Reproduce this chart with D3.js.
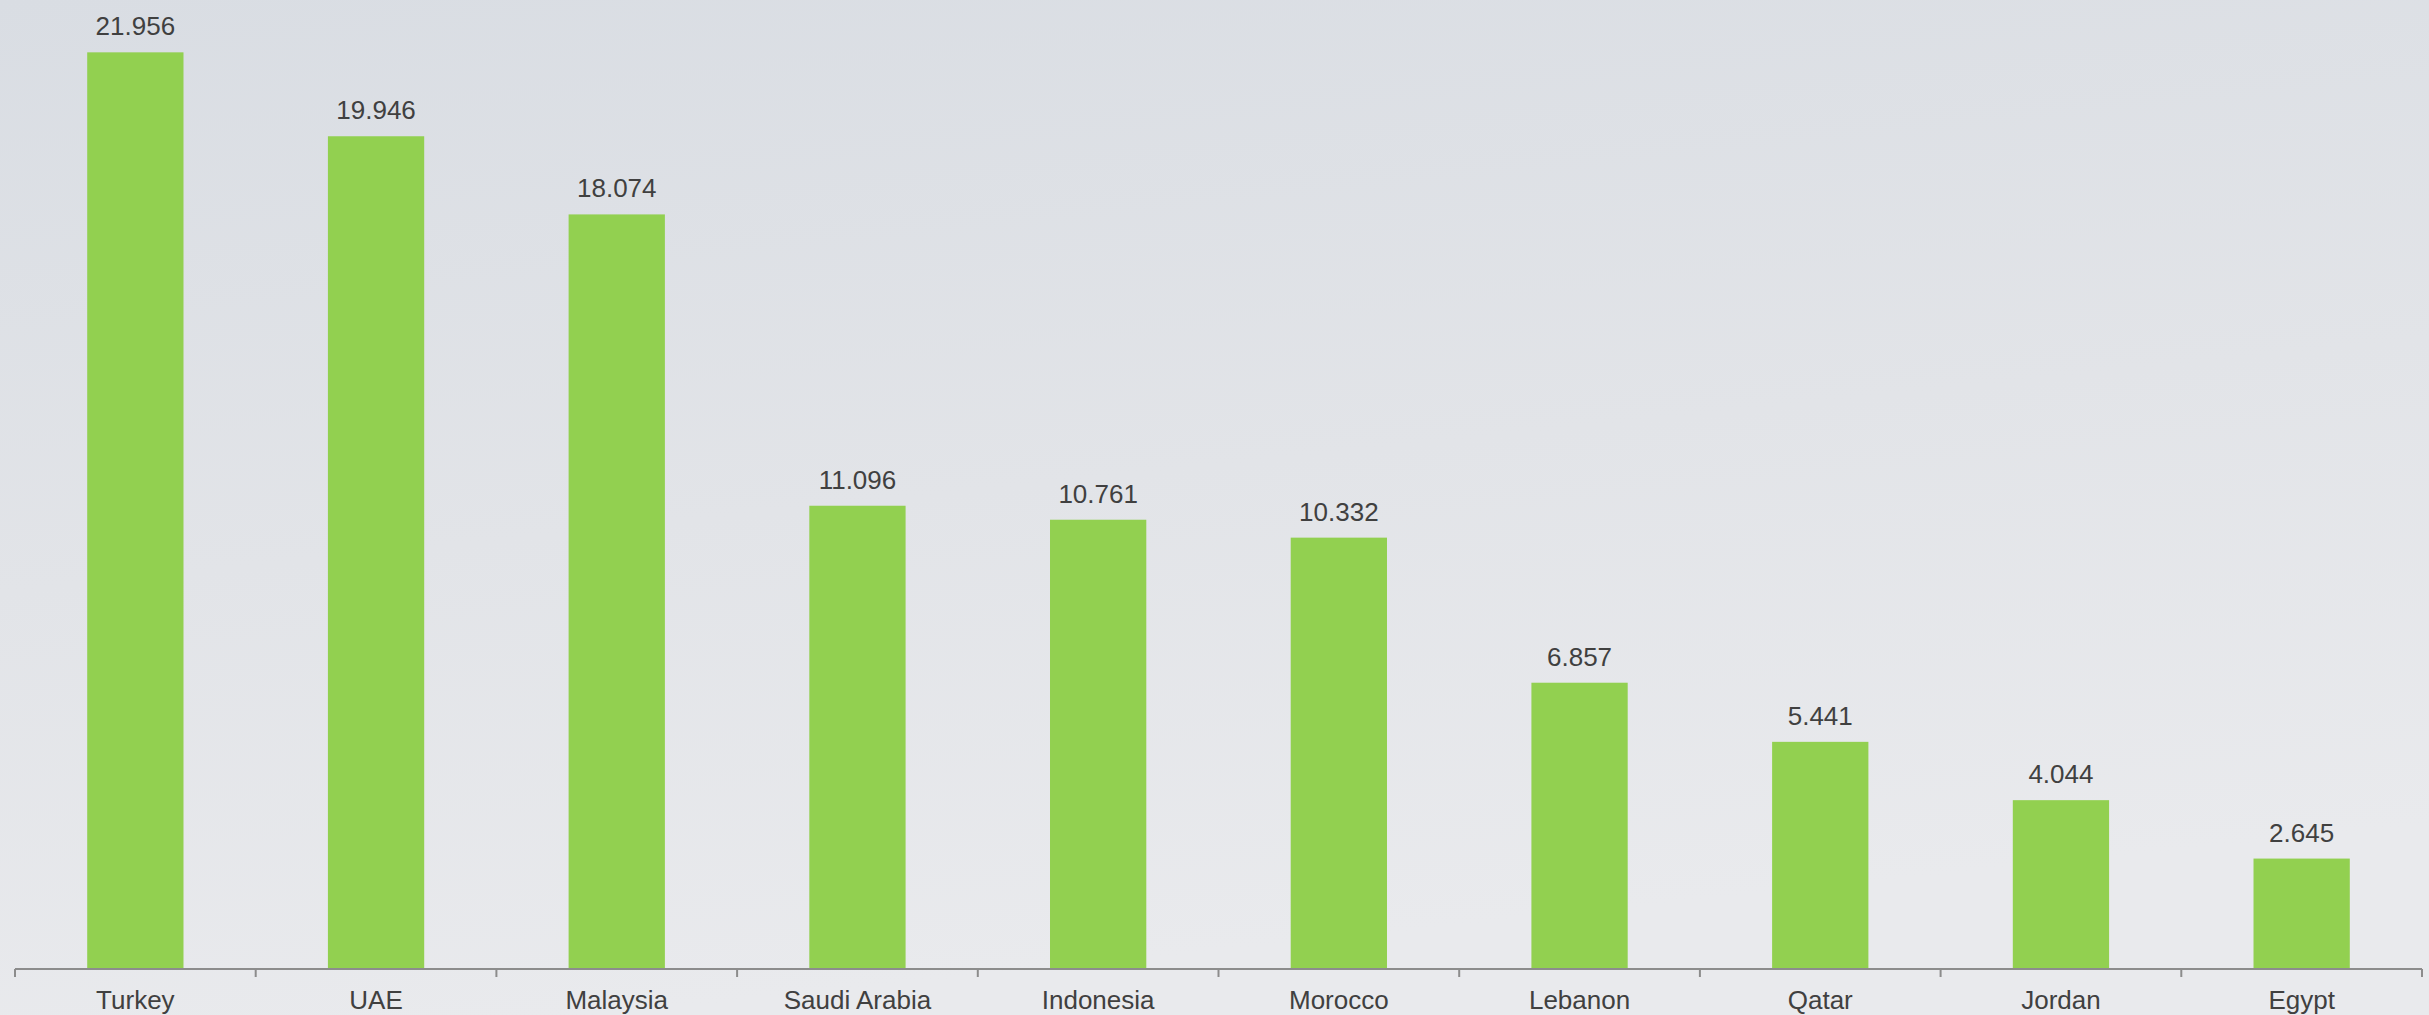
<!DOCTYPE html>
<html>
<head>
<meta charset="utf-8">
<script src="https://cdn.jsdelivr.net/npm/d3@7"></script>
<style>
  html, body { margin: 0; padding: 0; }
  body { width: 2429px; height: 1015px; overflow: hidden; }
  svg { display: block; }
</style>
</head>
<body>
<script>
// Country scores
const countries = ["Turkey", "UAE", "Malaysia", "Saudi Arabia", "Indonesia", "Morocco", "Lebanon", "Qatar", "Jordan", "Egypt"];
const scores = [21.956, 19.946, 18.074, 11.096, 10.761, 10.332, 6.857, 5.441, 4.044, 2.645];

const W = 2429, H = 1015;
const axisY = 969;
const left = 15, right = 2422;

const svg = d3.select("body").append("svg")
  .attr("width", W).attr("height", H);

// Soft grey backdrop
const defs = svg.append("defs");
const grad = defs.append("linearGradient")
  .attr("id", "bg").attr("x1", 0).attr("y1", 0).attr("x2", 0.25).attr("y2", 1);
grad.append("stop").attr("offset", "0%").attr("stop-color", "#d9dde3");
grad.append("stop").attr("offset", "55%").attr("stop-color", "#e2e4e8");
grad.append("stop").attr("offset", "100%").attr("stop-color", "#e9eaed");
svg.append("rect").attr("width", W).attr("height", H).attr("fill", "url(#bg)");

const x = d3.scaleBand().domain(countries).range([left, right]).paddingInner(0).paddingOuter(0);
const y = d3.scaleLinear().domain([0, 22]).range([axisY, axisY - 22 * 41.75]);

const barW = x.bandwidth() * 0.4;
const data = countries.map((c, i) => ({ c, v: scores[i] }));

svg.append("g").selectAll("rect").data(data).join("rect")
  .attr("x", d => x(d.c) + (x.bandwidth() - barW) / 2)
  .attr("y", d => y(d.v))
  .attr("width", barW)
  .attr("height", d => y(0) - y(d.v))
  .attr("fill", "#92d050");

svg.append("g").selectAll("text").data(data).join("text")
  .attr("x", d => x(d.c) + x.bandwidth() / 2)
  .attr("y", d => y(d.v) - 17)
  .attr("text-anchor", "middle")
  .attr("font-family", "'Liberation Sans', Arial, sans-serif")
  .attr("font-size", 26)
  .attr("fill", "#404040")
  .text(d => d.v.toFixed(3));

// Category axis with ticks between bands
const axis = svg.append("g");
axis.append("line")
  .attr("x1", left).attr("x2", right).attr("y1", axisY).attr("y2", axisY)
  .attr("stroke", "#8c8c8c").attr("stroke-width", 2);
const boundaries = countries.map(c => x(c)).concat([right]);
axis.selectAll("line.tick").data(boundaries).join("line")
  .attr("class", "tick")
  .attr("x1", d => d).attr("x2", d => d)
  .attr("y1", axisY).attr("y2", axisY + 8)
  .attr("stroke", "#8c8c8c").attr("stroke-width", 2);
axis.selectAll("text").data(countries).join("text")
  .attr("x", c => x(c) + x.bandwidth() / 2)
  .attr("y", 1009)
  .attr("text-anchor", "middle")
  .attr("font-family", "'Liberation Sans', Arial, sans-serif")
  .attr("font-size", 26)
  .attr("fill", "#404040")
  .text(c => c);
</script>
</body>
</html>
